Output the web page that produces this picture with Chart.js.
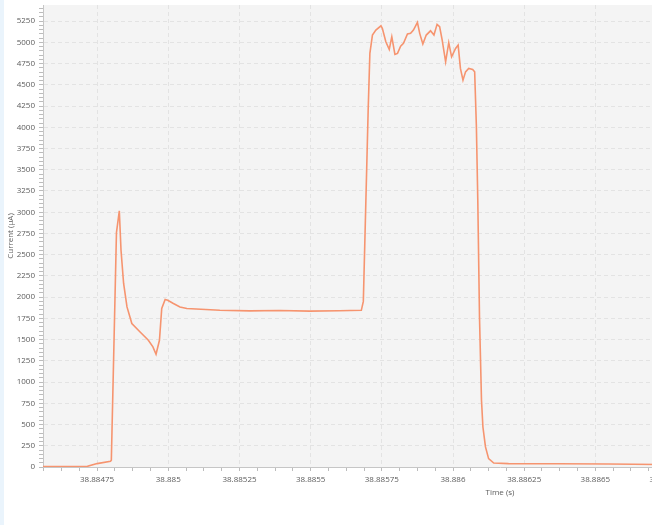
<!DOCTYPE html>
<html>
<head>
<meta charset="utf-8">
<script src="https://cdn.jsdelivr.net/npm/chart.js@4.4.1/dist/chart.umd.min.js"></script>
<style>
  html, body { margin: 0; padding: 0; background: #fff; overflow: hidden; }
  #wrap { border-left: 4px solid #eaf4fc; width: 966px; height: 525px; }
</style>
</head>
<body>
<div id="wrap"><canvas id="currentChart" width="966" height="525"></canvas></div>
<script>
// ---------------- data ----------------
const times = [
  38.88456, 38.884622, 38.884716, 38.88475, 38.884797, 38.8848, 38.884818, 38.884828,
  38.884834, 38.884843, 38.884855, 38.884872, 38.884901, 38.88493, 38.884946, 38.884957,
  38.884969, 38.884977, 38.884989, 38.884998, 38.885018, 38.885041, 38.885065, 38.885181,
  38.885286, 38.885391, 38.885496, 38.885601, 38.885678, 38.885685, 38.885702, 38.885708,
  38.885717, 38.885729, 38.885747, 38.885752, 38.885764, 38.885776, 38.885785, 38.885796,
  38.885805, 38.885816, 38.885826, 38.88584, 38.885851, 38.885861, 38.885875, 38.885883,
  38.885894, 38.885906, 38.885921, 38.885933, 38.885944, 38.885953, 38.885962, 38.885974,
  38.885985, 38.885995, 38.886009, 38.886018, 38.886026, 38.886035, 38.886044, 38.886055,
  38.886069, 38.886076, 38.886082, 38.886087, 38.886093, 38.8861, 38.886105, 38.886114,
  38.886125, 38.886143, 38.886195, 38.88637, 38.886545, 38.88672, 38.8870
];
const currents = [
  5, 5, 8, 40, 67, 80, 2760, 3016,
  2552, 2164, 1885, 1689, 1590, 1492, 1414, 1328,
  1492, 1866, 1972, 1964, 1925, 1885, 1866, 1846,
  1838, 1842, 1836, 1840, 1845, 1950, 4200, 4870,
  5086, 5144, 5195, 5164, 5007, 4917, 5066, 4858,
  4870, 4956, 4988, 5098, 5106, 5144, 5235, 5106,
  4980, 5086, 5136, 5086, 5212, 5184, 5026, 4771,
  4996, 4830, 4929, 4968, 4693, 4555, 4653, 4693,
  4681, 4653, 4020, 3140, 1767, 786, 471, 236,
  99, 47, 40, 38, 35, 30, 30
];

const xMin = 38.88456;
const xMax = 38.88777;
const yMax = 5440;
const xMajorStep = 0.00025;
const xMinorStep = 0.0000625;
const yMajorStep = 250;
const yMinorStep = 50;

// ---------------- helpers ----------------
const isMajorX = (v) => Math.round(v * 1e7) % Math.round(xMajorStep * 1e7) === 0;
const isMajorY = (v) => Math.round(v) % yMajorStep === 0;

const labelFont = { family: "'Open Sans', 'Noto Sans', sans-serif", size: 8 };
const labelColor = "#5c5c5c";
const gridColor = "#e3e3e3";
const tickMarkColor = "#bcbcbc";

const plotBackground = {
  id: "plotBackground",
  beforeDraw(chart) {
    const { ctx, chartArea } = chart;
    ctx.save();
    ctx.fillStyle = "#f4f4f4";
    ctx.fillRect(chartArea.left, chartArea.top, chartArea.right - chartArea.left, chartArea.bottom - chartArea.top);
    ctx.restore();
  },
};

const ctx = document.getElementById("currentChart").getContext("2d");

new Chart(ctx, {
  type: "line",
  data: {
    datasets: [
      {
        data: times.map((t, i) => ({ x: t, y: currents[i] })),
        borderColor: "#f6946f",
        borderWidth: 1.6,
        pointRadius: 0,
        tension: 0,
        fill: false,
      },
    ],
  },
  options: {
    responsive: false,
    animation: false,
    layout: { padding: { top: 5, right: 13, left: 0, bottom: 0 } },
    plugins: {
      legend: { display: false },
      tooltip: { enabled: false },
    },
    scales: {
      x: {
        type: "linear",
        min: xMin,
        max: xMax,
        afterFit: (scale) => {
          scale.height = 58;
          scale.paddingLeft = 0;
          scale.paddingRight = 0;
        },
        ticks: {
          stepSize: xMinorStep,
          includeBounds: false,
          autoSkip: false,
          maxRotation: 0,
          maxTicksLimit: 1000,
          padding: 4,
          color: labelColor,
          font: labelFont,
          callback: (value) => (isMajorX(value) ? String(Number(value.toFixed(6))) : ""),
        },
        grid: {
          color: (c) => (c.tick && isMajorX(c.tick.value) ? gridColor : "rgba(0,0,0,0)"),
          tickColor: tickMarkColor,
          tickLength: 4,
        },
        border: { display: true, color: "#c6c6c6", dash: [4, 3] },
        title: {
          display: true,
          text: "Time (s)",
          color: labelColor,
          font: labelFont,
          padding: { top: 4, bottom: 27 },
        },
      },
      y: {
        min: 0,
        max: yMax,
        afterFit: (scale) => {
          scale.width = 39;
          scale.paddingTop = 0;
          scale.paddingBottom = 0;
        },
        ticks: {
          stepSize: yMinorStep,
          includeBounds: false,
          autoSkip: false,
          maxTicksLimit: 1000,
          padding: 4,
          color: labelColor,
          font: labelFont,
          callback: (value) => (isMajorY(value) ? String(value) : ""),
        },
        grid: {
          color: (c) => (c.tick && isMajorY(c.tick.value) && c.tick.value !== 0 ? gridColor : "rgba(0,0,0,0)"),
          tickColor: tickMarkColor,
          tickLength: 4,
        },
        border: { display: true, color: "#c6c6c6", dash: [4, 3] },
        title: {
          display: true,
          text: "Current (µA)",
          color: labelColor,
          font: labelFont,
          padding: { top: 2, bottom: 0 },
        },
      },
    },
  },
  plugins: [plotBackground],
});
</script>
</body>
</html>
